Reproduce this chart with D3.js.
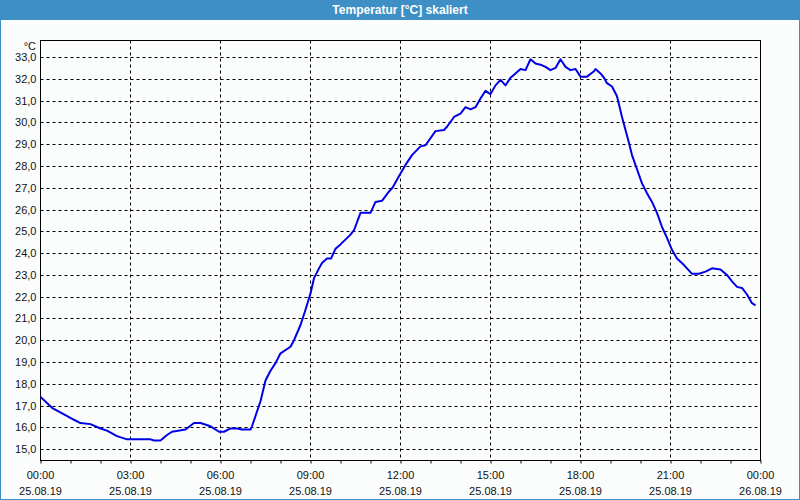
<!DOCTYPE html>
<html>
<head>
<meta charset="utf-8">
<script src="https://cdn.jsdelivr.net/npm/d3@7"></script>
<style>
  html, body { margin: 0; padding: 0; background: #fbfdfd; }
  svg { display: block; }
</style>
</head>
<body>
<svg id="chart" width="800" height="500"></svg>
<script>
// ---- data ----
const chartTitle = "Temperatur [°C] skaliert";
const unitLabel = "°C";
const startDate = "2019-08-25T00:00";
const endDate = "2019-08-26T00:00";
const times = [
  "00:00","00:23","00:47","01:07","01:20","01:40","02:00","02:13","02:33","02:53",
  "03:40","03:47","04:00","04:13","04:23","04:50","05:07","05:20","05:40","05:57",
  "06:07","06:20","06:33","06:43","07:00","07:03","07:20","07:30","07:40","07:50",
  "08:00","08:20","08:27","08:40","08:50","09:00","09:07","09:17","09:23","09:33",
  "09:41","09:50","10:00","10:20","10:27","10:40","11:00","11:10","11:23","11:36",
  "11:44","12:00","12:10","12:23","12:40","12:50","13:10","13:27","13:33","13:47",
  "14:00","14:10","14:20","14:30","14:40","14:50","15:00","15:10","15:20","15:30",
  "15:40","15:50","16:00","16:10","16:20","16:30","16:40","16:50","17:00","17:10",
  "17:20","17:30","17:40","17:50","18:00","18:13","18:27","18:30","18:40","18:47",
  "18:53","19:03","19:13","19:23","19:30","19:37","19:43","19:53","20:03","20:13",
  "20:23","20:33","20:43","20:53","21:03","21:13","21:27","21:43","21:57","22:10",
  "22:23","22:40","22:53","23:03","23:13","23:23","23:33","23:43","23:50"
];
const temps = [
  17.4,16.9,16.6,16.35,16.2,16.15,15.95,15.85,15.6,15.45,
  15.45,15.4,15.4,15.65,15.8,15.9,16.2,16.2,16.05,15.8,
  15.8,15.95,15.95,15.9,15.9,16.05,17.2,18.15,18.6,18.95,
  19.4,19.7,20.0,20.7,21.4,22.15,22.85,23.3,23.55,23.75,
  23.75,24.2,24.4,24.85,25.05,25.85,25.85,26.35,26.4,26.8,
  27.0,27.65,28.05,28.5,28.9,28.95,29.6,29.65,29.8,30.25,
  30.4,30.7,30.6,30.7,31.1,31.45,31.3,31.7,31.95,31.7,
  32.05,32.25,32.45,32.4,32.9,32.7,32.65,32.55,32.4,32.5,
  32.9,32.55,32.4,32.45,32.1,32.1,32.35,32.45,32.25,32.05,
  31.8,31.65,31.2,30.25,29.65,29.05,28.5,27.85,27.2,26.75,
  26.35,25.85,25.2,24.7,24.15,23.75,23.45,23.05,23.05,23.15,
  23.3,23.25,23.0,22.7,22.45,22.4,22.1,21.7,21.6
];
const yTicks = [15,16,17,18,19,20,21,22,23,24,25,26,27,28,29,30,31,32,33];
const yDomain = [14.48, 33.76];
const xMajorHours = [0,3,6,9,12,15,18,21,24];

// ---- drawing ----
const W = 800, H = 500;
const plot = { left: 40.5, right: 760.5, top: 40.5, bottom: 460.5 };
const svg = d3.select("#chart");
const font = "'Liberation Sans', Arial, sans-serif";

// window frame + title bar
svg.append("rect").attr("x",0).attr("y",0).attr("width",W).attr("height",H).attr("fill","#fbfdfd");
svg.append("rect").attr("x",0).attr("y",0).attr("width",W).attr("height",20).attr("fill","#3d8fc5");
svg.append("rect").attr("x",0.5).attr("y",0.5).attr("width",W-1).attr("height",H-1)
   .attr("fill","none").attr("stroke","#3d8fc5").attr("stroke-width",1);
svg.append("text").attr("x",W/2).attr("y",10).attr("dy","0.36em")
   .attr("text-anchor","middle").attr("fill","#fff")
   .attr("font-family",font).attr("font-weight","bold").attr("font-size","12px")
   .text(chartTitle);

const parseT = d3.timeParse("%Y-%m-%dT%H:%M");
const t0 = parseT(startDate), t1 = parseT(endDate);
const data = times.map((t,i) => ({ date: parseT("2019-08-25T" + t), v: temps[i] }));

const x = d3.scaleTime().domain([t0, t1]).range([plot.left, plot.right]);
const y = d3.scaleLinear().domain(yDomain).range([plot.bottom, plot.top]);

// grid - horizontal
svg.append("g").selectAll("line").data(yTicks).join("line")
  .attr("x1", plot.left).attr("x2", plot.right)
  .attr("y1", d => Math.round(y(d)) + 0.5).attr("y2", d => Math.round(y(d)) + 0.5)
  .attr("stroke","#000").attr("stroke-width",1).attr("stroke-dasharray","3,3");

// grid - vertical
const majorDates = xMajorHours.map(h => d3.timeHour.offset(t0, h));
svg.append("g").selectAll("line").data(majorDates.slice(1,-1)).join("line")
  .attr("x1", d => x(d)).attr("x2", d => x(d))
  .attr("y1", plot.top).attr("y2", plot.bottom)
  .attr("stroke","#000").attr("stroke-width",1).attr("stroke-dasharray","3,3");

// x axis with hourly ticks
const xAxis = d3.axisBottom(x).ticks(d3.timeHour.every(1)).tickSize(3).tickFormat("");
const gx = svg.append("g").attr("transform", `translate(0,${plot.bottom})`).call(xAxis);
gx.select(".domain").remove();
gx.selectAll(".tick line").attr("stroke","#000");

// x labels (two lines)
const fmtTime = d3.timeFormat("%H:%M"), fmtDate = d3.timeFormat("%d.%m.%y");
const lbl = svg.append("g").selectAll("g").data(majorDates).join("g")
  .attr("transform", d => `translate(${x(d)},0)`);
lbl.append("text").attr("y",475).attr("dy","0.36em").attr("text-anchor","middle")
  .attr("font-family",font).attr("font-size","11px").attr("fill","#111")
  .text(d => fmtTime(d));
lbl.append("text").attr("y",491).attr("dy","0.36em").attr("text-anchor","middle")
  .attr("font-family",font).attr("font-size","11px").attr("fill","#111")
  .text(d => fmtDate(d));

// y labels
const fmtY = v => d3.format(".1f")(v).replace(".", ",");
const yAxis = d3.axisLeft(y).tickValues(yTicks).tickSize(0).tickPadding(4).tickFormat(fmtY);
const gy = svg.append("g").attr("transform", `translate(${plot.left},0)`).call(yAxis);
gy.select(".domain").remove();
gy.selectAll("text").attr("font-family",font).attr("font-size","11px").attr("fill","#111");
svg.append("text").attr("x",36).attr("y",46).attr("dy","0.36em").attr("text-anchor","end")
  .attr("font-family",font).attr("font-size","11px").attr("fill","#111").text(unitLabel);

// frame
svg.append("rect").attr("x",plot.left).attr("y",plot.top)
  .attr("width",plot.right-plot.left).attr("height",plot.bottom-plot.top)
  .attr("fill","none").attr("stroke","#000").attr("stroke-width",1);

// line
const line = d3.line().x(d => x(d.date)).y(d => y(d.v));
svg.append("path").datum(data).attr("d", line)
  .attr("fill","none").attr("stroke","#0000e6").attr("stroke-width",2)
  .attr("stroke-linejoin","round");
</script>
</body>
</html>
